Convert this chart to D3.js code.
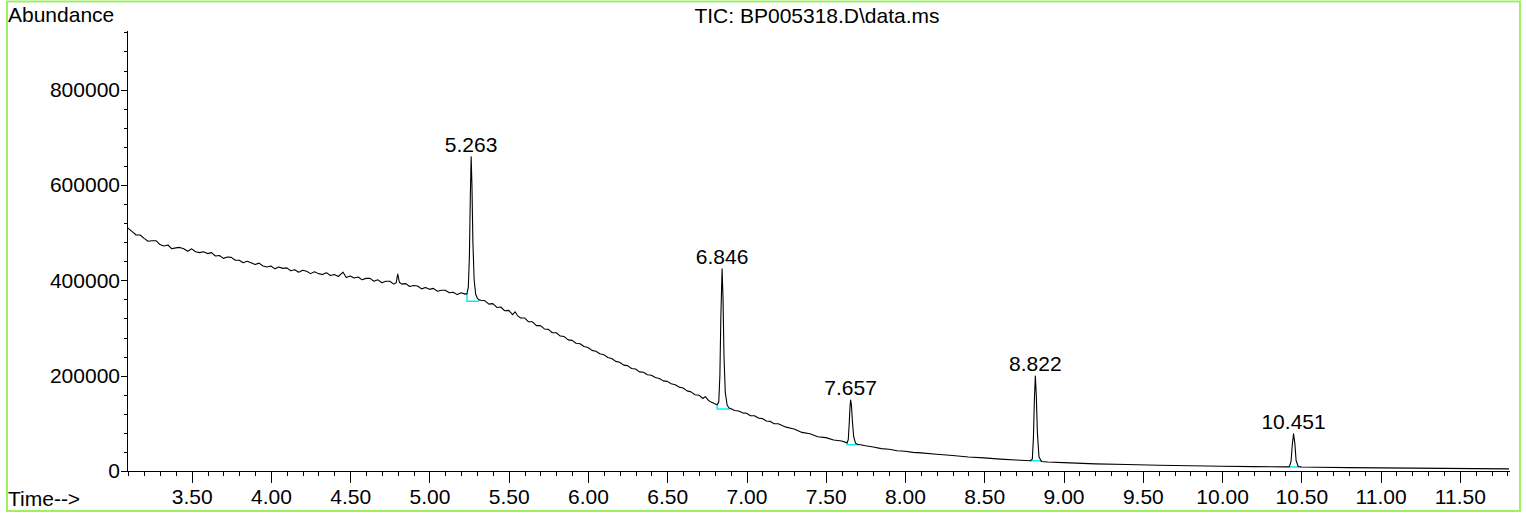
<!DOCTYPE html>
<html>
<head>
<meta charset="utf-8">
<script src="https://cdn.jsdelivr.net/npm/d3@7"></script>
<style>
    body { margin: 0; background: #fff; }
    svg text { font-family: "Liberation Sans", Arial, sans-serif; font-size: 21px; fill: #000; }
    .axis path, .axis line { stroke: #000; stroke-width: 1; shape-rendering: crispEdges; }
    .trace { fill: none; stroke: #000; stroke-width: 1.1; stroke-linejoin: round; }
    .integ { fill: none; stroke: #00f0ff; stroke-width: 1.5; }
</style>
</head>
<body>
<script>
// TIC trace: [time (min), abundance]
// noisy early baseline up to the first peak
var segA = [
    [3.092, 510000], [3.100, 509000], [3.125, 502000], [3.150, 495000], [3.175, 495000],
    [3.200, 488000], [3.225, 482000], [3.250, 483000], [3.275, 483000], [3.300, 475000],
    [3.325, 472000], [3.350, 474000], [3.375, 466000], [3.400, 468000], [3.425, 469000],
    [3.450, 466000], [3.475, 461000], [3.500, 466000], [3.525, 460000], [3.550, 458000],
    [3.575, 460000], [3.600, 456000], [3.625, 458000], [3.650, 451000], [3.675, 452000],
    [3.700, 446000], [3.725, 449000], [3.750, 448000], [3.775, 442000], [3.800, 442000],
    [3.825, 437000], [3.850, 440000], [3.875, 437000], [3.900, 433000], [3.925, 436000],
    [3.950, 430000], [3.975, 428000], [4.000, 430000], [4.025, 424000], [4.050, 428000],
    [4.075, 425000], [4.100, 426000], [4.125, 420000], [4.150, 422000], [4.175, 417000],
    [4.200, 421000], [4.225, 419000], [4.250, 414000], [4.275, 418000], [4.300, 414000],
    [4.325, 412000], [4.350, 416000], [4.375, 410000], [4.400, 412000], [4.425, 408000],
    [4.455, 417000], [4.475, 406000], [4.500, 409000], [4.525, 405000], [4.550, 407000],
    [4.575, 401000], [4.600, 404000], [4.625, 404000], [4.650, 398000], [4.675, 401000],
    [4.700, 395000], [4.725, 398000], [4.750, 398000], [4.775, 392000], [4.790, 395000],
    [4.800, 413000], [4.810, 396000], [4.825, 392000], [4.850, 393000], [4.875, 387000],
    [4.900, 389000], [4.925, 388000], [4.950, 382000], [4.975, 385000], [5.000, 381000],
    [5.025, 383000], [5.050, 377000], [5.075, 379000], [5.100, 379000], [5.125, 374000],
    [5.150, 375000], [5.175, 370000], [5.200, 374000], [5.225, 371000], [5.237, 372000]
];
var peak1 = [
    [5.245, 385000], [5.252, 450000], [5.258, 580000], [5.263, 659000], [5.268, 600000],
    [5.274, 480000], [5.282, 400000], [5.292, 370000], [5.303, 362000], [5.313, 359000]
];
var segB = [
    [5.325, 358000], [5.350, 357000], [5.375, 350000], [5.400, 351000], [5.425, 343000],
    [5.450, 344000], [5.475, 336000], [5.500, 337000], [5.525, 328000], [5.540, 334000],
    [5.555, 326000], [5.575, 321000], [5.600, 321000], [5.625, 313000], [5.650, 313000],
    [5.675, 305000], [5.700, 305000], [5.725, 298000], [5.750, 297000], [5.775, 290000],
    [5.800, 290000], [5.825, 283000], [5.850, 282000], [5.875, 275000], [5.900, 274000],
    [5.925, 268000], [5.950, 267000], [5.975, 261000], [6.000, 259000], [6.025, 253000],
    [6.050, 251000], [6.075, 246000], [6.100, 244000], [6.125, 238000], [6.150, 236000],
    [6.175, 230000], [6.200, 228000], [6.225, 222000], [6.250, 221000], [6.275, 215000],
    [6.300, 214000], [6.325, 208000], [6.350, 207000], [6.375, 202000], [6.400, 201000],
    [6.425, 196000], [6.450, 194000], [6.475, 189000], [6.500, 188000], [6.525, 183000],
    [6.550, 181000], [6.575, 176000], [6.600, 174000], [6.625, 168000], [6.650, 166000],
    [6.675, 160000], [6.700, 159000], [6.725, 152000], [6.740, 156000], [6.760, 148000],
    [6.780, 144000], [6.800, 141000], [6.815, 139000]
];
var peak2 = [
    [6.825, 145000], [6.832, 200000], [6.838, 320000], [6.846, 424000], [6.852, 360000],
    [6.858, 240000], [6.866, 165000], [6.878, 138000], [6.890, 132000]
];
var segC = [
    [6.900, 131000], [6.925, 127000], [6.950, 126000], [6.975, 122000], [7.000, 121000],
    [7.025, 116000], [7.050, 116000], [7.075, 111000], [7.100, 110000], [7.125, 105000],
    [7.150, 104000], [7.175, 99000], [7.200, 99000], [7.250, 92000], [7.300, 88000],
    [7.350, 81000], [7.400, 78000], [7.450, 72000], [7.500, 70000], [7.550, 65000],
    [7.600, 63000], [7.635, 59000]
];
var peak3 = [
    [7.642, 66000], [7.648, 100000], [7.653, 135000], [7.657, 149000], [7.662, 138000],
    [7.668, 105000], [7.676, 72000], [7.688, 58000], [7.700, 56000]
];
var segD = [
    [7.720, 55000], [7.750, 53000], [7.800, 50500], [7.850, 47000], [7.900, 45500],
    [7.950, 42500], [8.000, 41500], [8.050, 39000], [8.100, 38000], [8.200, 35000],
    [8.300, 32500], [8.400, 29500], [8.500, 27500], [8.600, 25000], [8.700, 23000],
    [8.790, 21500]
];
var peak4 = [
    [8.803, 25000], [8.810, 70000], [8.816, 150000], [8.822, 199000], [8.828, 160000],
    [8.835, 80000], [8.845, 30000], [8.860, 20000]
];
var segE = [
    [8.900, 19000], [9.000, 17500], [9.200, 15000], [9.400, 13500], [9.600, 12000],
    [9.800, 11000], [10.000, 10000], [10.200, 9200], [10.400, 8600]
];
var peak5 = [
    [10.425, 9000], [10.435, 20000], [10.443, 55000], [10.451, 78000], [10.459, 58000],
    [10.467, 22000], [10.480, 9500], [10.500, 8300]
];
var segF = [
    [10.600, 7800], [10.800, 7000], [11.000, 6500], [11.200, 6000], [11.400, 5500],
    [11.600, 5000], [11.810, 4500]
];

// labelled peaks
var peakRT = [5.263, 6.846, 7.657, 8.822, 10.451];
var peakApex = [659000, 424000, 149000, 199000, 78000];
// integration baselines: start, end, base abundance, trace abundance at start
var integStart = [5.237, 6.815, 7.635, 8.789, 10.410];
var integEnd = [5.313, 6.897, 7.711, 8.865, 10.500];
var integBase = [356000, 130000, 55000, 21500, 8400];
var integTop = [372000, 139000, 59000, 21500, 8400];

// tick labels
var xTickLabels = ["3.50", "4.00", "4.50", "5.00", "5.50", "6.00", "6.50", "7.00", "7.50",
    "8.00", "8.50", "9.00", "9.50", "10.00", "10.50", "11.00", "11.50"];
var yTickLabels = [0, 200000, 400000, 600000, 800000];

var W = 1526, H = 514;
var margin = { left: 127, right: 17, top: 30, bottom: 43 };

var svg = d3.select("body").append("svg")
    .attr("width", W)
    .attr("height", H);

// frame round the whole picture
svg.append("rect")
    .attr("x", 7).attr("y", 1.5)
    .attr("width", 1513).attr("height", 509.5)
    .attr("fill", "none")
    .attr("stroke", "#9cf062")
    .attr("stroke-width", 2);

var x = d3.scaleLinear()
    .domain([3.092, 11.81])
    .range([margin.left, W - margin.right]);

var y = d3.scaleLinear()
    .domain([0, 925000])
    .range([H - margin.bottom, margin.top]);

// x axis: minor ticks every 0.1, major every 0.5 with labels
var xMinor = d3.range(31, 119).map(function (d) { return d / 10; });
svg.append("g")
    .attr("class", "axis")
    .attr("transform", "translate(0," + y(0) + ")")
    .call(d3.axisBottom(x).tickValues(xMinor).tickSize(5).tickSizeOuter(0).tickFormat(""));

svg.append("g")
    .attr("class", "axis")
    .attr("transform", "translate(0," + y(0) + ")")
    .call(d3.axisBottom(x)
        .tickValues(xTickLabels.map(Number))
        .tickSize(12).tickSizeOuter(0).tickPadding(6)
        .tickFormat(function (d, i) { return xTickLabels[i]; }))
    .call(function (g) { g.select(".domain").remove(); })
    .selectAll("text").attr("font-size", null).attr("font-family", null);

// y axis: minor ticks every 40000, labels every 200000
var yMinor = d3.range(0, 925000, 40000);
svg.append("g")
    .attr("class", "axis")
    .attr("transform", "translate(" + margin.left + ",0)")
    .call(d3.axisLeft(y).tickValues(yMinor).tickSize(3).tickSizeOuter(0).tickFormat(""));

svg.append("g")
    .attr("class", "axis")
    .attr("transform", "translate(" + margin.left + ",0)")
    .call(d3.axisLeft(y).tickValues(yTickLabels).tickSize(6).tickSizeOuter(0).tickPadding(1)
        .tickFormat(d3.format("d")))
    .call(function (g) { g.select(".domain").remove(); })
    .selectAll("text").attr("font-size", null).attr("font-family", null);

// integration marks under each peak
svg.selectAll(".integ")
    .data(peakRT)
    .enter().append("path")
    .attr("class", "integ")
    .attr("d", function (d, i) {
        return "M" + x(integStart[i]) + "," + y(integTop[i]) +
            "V" + y(integBase[i]) + "H" + x(integEnd[i]);
    });

// the trace
var trace = [].concat(segA, peak1, segB, peak2, segC, peak3, segD, peak4, segE, peak5, segF);
var line = d3.line()
    .x(function (d) { return x(d[0]); })
    .y(function (d) { return y(d[1]); });

svg.append("path")
    .datum(trace)
    .attr("class", "trace")
    .attr("d", line);

// peak retention time labels
svg.selectAll(".rt")
    .data(peakRT)
    .enter().append("text")
    .attr("class", "rt")
    .attr("x", function (d) { return x(d); })
    .attr("y", function (d, i) { return y(peakApex[i]) - 5; })
    .attr("text-anchor", "middle")
    .text(function (d) { return d3.format(".3f")(d); });

// titles
svg.append("text").attr("x", 8).attr("y", 22).text("Abundance");
svg.append("text").attr("x", 817).attr("y", 23).attr("text-anchor", "middle").text("TIC: BP005318.D\\data.ms");
svg.append("text").attr("x", 8).attr("y", 506).text("Time-->");
</script>
</body>
</html>
